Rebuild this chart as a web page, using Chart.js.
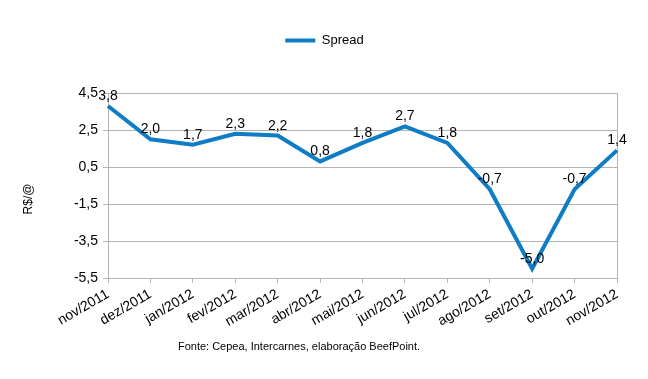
<!DOCTYPE html>
<html>
<head>
<meta charset="utf-8">
<script src="https://cdn.jsdelivr.net/npm/chart.js@4"></script>
<style>
  html, body { margin: 0; padding: 0; background: #fff; }
  #wrap { width: 648px; height: 379px; }
</style>
</head>
<body>
<div id="wrap"><canvas id="c"></canvas></div>
<script>
/* ── Data ─────────────────────────────────────────── */
const months = ['nov/2011', 'dez/2011', 'jan/2012', 'fev/2012', 'mar/2012', 'abr/2012',
                'mai/2012', 'jun/2012', 'jul/2012', 'ago/2012', 'set/2012', 'out/2012', 'nov/2012'];
const spread = [3.8, 2.0, 1.7, 2.3, 2.2, 0.8, 1.8, 2.7, 1.8, -0.7, -5.0, -0.7, 1.4];
const source = 'Fonte: Cepea, Intercarnes, elaboração BeefPoint.';
const yTitle = 'R$/@';

const LINE = '#0f7dc6';
const GRID = '#b3b3b3';
const FONT = "'Liberation Sans', Arial, sans-serif";
const fmt = v => v.toFixed(1).replace('.', ',');

Chart.defaults.font.family = FONT;
Chart.defaults.color = '#000';

/* value labels, axis title and source line */
const extras = {
  id: 'extras',
  afterInit(chart) {
    // leave room between legend and plot
    const lg = chart.legend, fit = lg.fit;
    lg.fit = function () { fit.call(this); this.height += 36; };
  },
  afterLayout(chart) {
    // centre the legend on the canvas rather than the padded box
    chart.legend.left += 16;
    chart.legend.right += 16;
  },
  afterDatasetsDraw(chart) {
    const ctx = chart.ctx;
    const meta = chart.getDatasetMeta(0);
    ctx.save();
    ctx.font = '14px ' + FONT;
    ctx.fillStyle = '#000';
    ctx.textAlign = 'center';
    ctx.textBaseline = 'alphabetic';
    meta.data.forEach((pt, i) => {
      ctx.fillText(fmt(spread[i]), pt.x, pt.y - 6);
    });
    ctx.font = '11px ' + FONT;
    ctx.textBaseline = 'middle';
    ctx.fillText(source, 299, 347);
    ctx.translate(29, 199);
    ctx.rotate(-Math.PI / 2);
    ctx.font = '12px ' + FONT;
    ctx.fillText(yTitle, 0, 0);
    ctx.restore();
  }
};

new Chart(document.getElementById('c'), {
  type: 'line',
  data: {
    labels: months,
    datasets: [{
      label: 'Spread',
      data: spread,
      borderColor: LINE,
      backgroundColor: LINE,
      borderWidth: 4,
      pointRadius: 0,
      tension: 0,
    }],
  },
  options: {
    responsive: true,
    maintainAspectRatio: false,
    animation: false,
    layout: { padding: { top: 22, right: 31, bottom: 41, left: 0 } },
    plugins: {
      legend: {
        position: 'top',
        labels: {
          boxWidth: 30, boxHeight: 4, padding: 12,
          font: { size: 13 }, color: '#000',
          generateLabels: chart => Chart.defaults.plugins.legend.labels.generateLabels(chart)
            .map(l => ({ ...l, lineWidth: 0, fillStyle: LINE })),
        },
      },
      tooltip: { enabled: false },
    },
    scales: {
      x: {
        offset: false,
        grid: {
          color: c => c.index === months.length - 1 ? GRID : 'transparent',
          tickColor: GRID, tickLength: 5,
        },
        border: { color: GRID },
        ticks: { maxRotation: 30, minRotation: 30, font: { size: 14 }, color: '#000', padding: 3 },
        afterFit: s => { s.height = 60; },
      },
      y: {
        min: -5.5, max: 4.5,
        ticks: { stepSize: 2, font: { size: 14 }, color: '#000', padding: 5, callback: v => fmt(v) },
        grid: { color: GRID, tickLength: 5, tickColor: GRID },
        border: { color: GRID },
        afterFit: s => { s.width = 108; },
      },
    },
  },
  plugins: [extras],
});
</script>
</body>
</html>
